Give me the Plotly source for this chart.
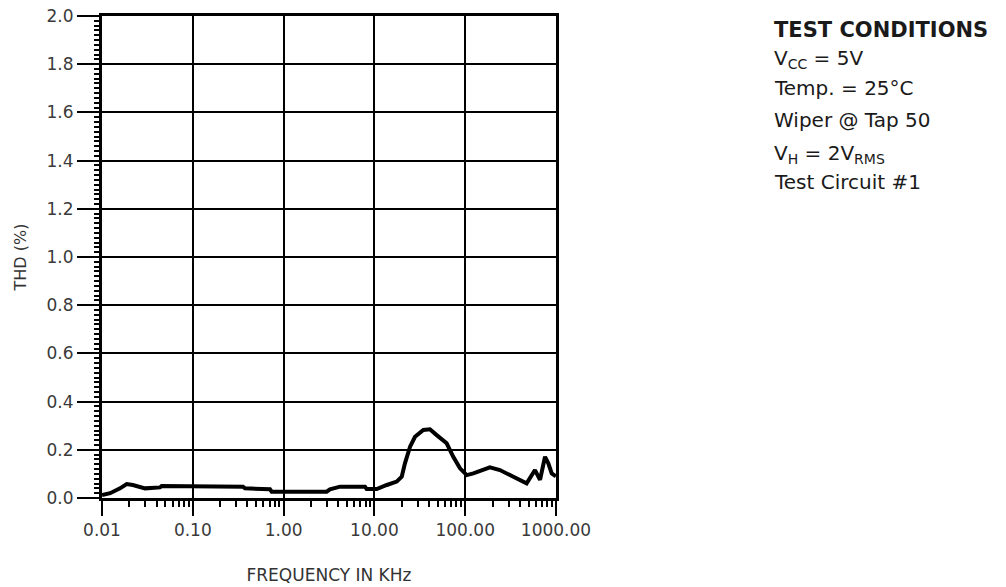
import plotly.graph_objects as go

# ---- data ----
freq_khz = [0.01, 0.0123, 0.0158, 0.0187, 0.0219, 0.0298, 0.0435, 0.0454, 0.357, 0.376,
            0.708, 0.739, 2.98, 3.24, 4.18, 7.88, 8.22, 10.6, 13.7, 17.6, 20.0, 21.7,
            24.7, 28.0, 34.6, 40.9, 48.5, 62.5, 73.9, 87.7, 104, 123, 187, 241, 339,
            475, 587, 667, 757, 823, 897, 975, 1000]
thd_pct = [0.012, 0.02, 0.04, 0.058, 0.054, 0.04, 0.044, 0.05, 0.047, 0.04,
           0.036, 0.026, 0.026, 0.036, 0.047, 0.047, 0.037, 0.037, 0.054, 0.068, 0.088, 0.144,
           0.213, 0.254, 0.282, 0.285, 0.261, 0.227, 0.171, 0.123, 0.095, 0.102, 0.127, 0.116, 0.088,
           0.061, 0.116, 0.075, 0.171, 0.144, 0.102, 0.095, 0.09]

x_tickvals = [0.01, 0.1, 1, 10, 100, 1000]
x_ticktext = ["0.01", "0.10", "1.00", "10.00", "100.00", "1000.00"]
y_tickvals = [0.0, 0.2, 0.4, 0.6, 0.8, 1.0, 1.2, 1.4, 1.6, 1.8, 2.0]
y_ticktext = ["0.0", "0.2", "0.4", "0.6", "0.8", "1.0", "1.2", "1.4", "1.6", "1.8", "2.0"]
x_minor = [m * 10 ** e for e in range(-2, 3) for m in range(2, 10)]

conditions = [
    "<b>TEST CONDITIONS</b>",
    "V<sub>CC</sub> = 5V",
    "Temp. = 25°C",
    "Wiper @ Tap 50",
    "V<sub>H</sub> = 2V<sub>RMS</sub>",
    "Test Circuit #1",
]

FONT = "DejaVu Sans, Arial, sans-serif"

fig = go.Figure()
fig.add_trace(go.Scatter(x=freq_khz, y=thd_pct, mode="lines",
                         line=dict(color="black", width=4), showlegend=False,
                         hoverinfo="skip"))

fig.update_layout(
    width=1006, height=587,
    margin=dict(l=102, r=450, t=16, b=89),
    paper_bgcolor="white", plot_bgcolor="white",
    font=dict(family=FONT, color="#333333", size=16),
)

fig.update_xaxes(
    type="log", range=[-2, 3], automargin=False,
    tickmode="array", tickvals=x_tickvals, ticktext=x_ticktext,
    tickfont=dict(size=17, color="#3a3a3a"),
    ticks="outside", ticklen=15, tickwidth=2, tickcolor="black",
    showgrid=True, gridcolor="black", gridwidth=2,
    showline=True, linecolor="black", linewidth=3, mirror=True,
    zeroline=False,
    minor=dict(tickmode="array", tickvals=x_minor, ticks="outside",
               ticklen=6, tickwidth=1.5, tickcolor="black", showgrid=False),
    title=dict(text="FREQUENCY IN KHz", font=dict(size=17, color="#333333"), standoff=30),
)
fig.update_yaxes(
    range=[0, 2.0], automargin=False,
    tickmode="array", tickvals=y_tickvals, ticktext=y_ticktext,
    tickfont=dict(size=17, color="#3a3a3a"),
    ticks="outside", ticklen=22, tickwidth=2, tickcolor="black",
    showgrid=True, gridcolor="black", gridwidth=2,
    showline=True, linecolor="black", linewidth=3, mirror=True,
    zeroline=False,
    minor=dict(dtick=0.02, ticks="outside", ticklen=5, tickwidth=1.5,
               tickcolor="black", showgrid=False),
    title=dict(text="THD (%)", font=dict(size=16, color="#333333"), standoff=16),
)

line_y_px = [30, 59, 88, 120, 154, 182]
plot_top, plot_h = 16, 482
for txt, ypx in zip(conditions, line_y_px):
    fig.add_annotation(
        xref="paper", yref="paper",
        x=(772 - 102) / 454, y=1 - (ypx - plot_top) / plot_h,
        xanchor="left", yanchor="middle", showarrow=False,
        text=txt, align="left",
        font=dict(family=FONT, size=21 if "TEST" in txt else 20, color="#1a1a1a"),
    )

fig.write_html("out.html")
